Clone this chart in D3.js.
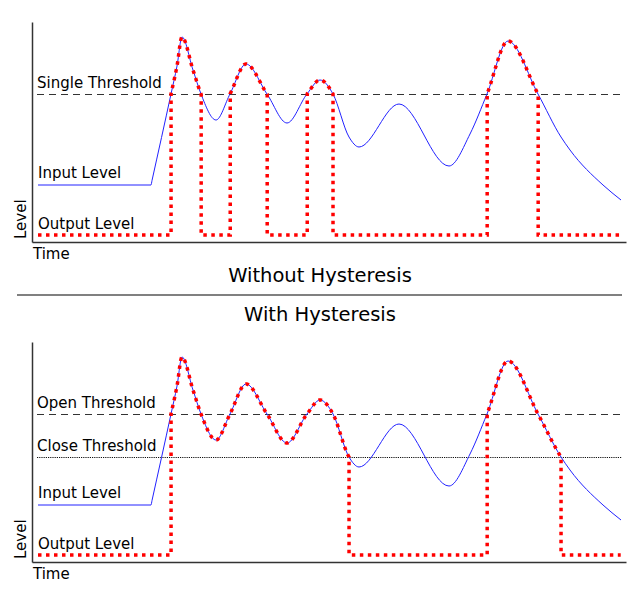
<!DOCTYPE html>
<html>
<head>
<meta charset="utf-8">
<script src="https://cdnjs.cloudflare.com/ajax/libs/d3/7.8.5/d3.min.js"></script>
<style>
body { margin: 0; background: #fff; }
text { font-family: "DejaVu Sans", sans-serif; fill: #000; }
</style>
</head>
<body>
<div id="chart"></div>
<script>
// input signal (time units, level units)
var timePoints  = [6, 119, 120, 139, 145, 150, 161, 169, 184, 198, 214, 235, 255, 275, 288, 301, 317, 327, 367, 417, 438, 455, 476, 506, 529, 538, 571, 589];
var inputLevels = [57, 57, 61.5, 148, 176, 205, 172, 148, 122, 148, 178, 148, 119, 148, 162, 148, 105, 95, 138, 76, 108, 148, 201, 148, 105, 92, 57, 42];

var outputLow = 7;

// per panel
var panelTitles = ["Without Hysteresis", "With Hysteresis"];
var openLevels  = [148, 148];
var closeLevels = [148, 105];
var thresholdLabels = [["Single Threshold"], ["Open Threshold", "Close Threshold"]];
var thresholdLevels = [[148], [148, 105]];

var width = 640, height = 600;

var svg = d3.select("#chart").append("svg")
	.attr("width", width)
	.attr("height", height);

var x = d3.scaleLinear().domain([0, 594]).range([32, 626]);
var y = d3.scaleLinear().domain([0, 220]).range([242, 22]);

var inputLine = d3.line()
	.x(function (d) { return x(d.t); })
	.y(function (d) { return y(d.v); })
	.curve(d3.curveMonotoneX);

var inputData = timePoints.map(function (t, i) { return {t: t, v: inputLevels[i]}; });

function drawPanel(idx, top) {
	var g = svg.append("g").attr("transform", "translate(0," + top + ")");

	// thresholds
	thresholdLevels[idx].forEach(function (lv, j) {
		var dotted = idx === 1 && j === 1;
		g.append("line")
			.attr("x1", 37).attr("x2", 622)
			.attr("y1", y(lv) + 0.5).attr("y2", y(lv) + 0.5)
			.attr("stroke", dotted ? "#111" : "#333")
			.attr("stroke-width", 1)
			.attr("stroke-dasharray", dotted ? "1.2,1" : "7,5");
		g.append("text")
			.attr("x", 37).attr("y", y(lv) - 6)
			.attr("font-size", 15)
			.text(thresholdLabels[idx][j]);
	});

	// input
	var path = g.append("path")
		.datum(inputData)
		.attr("d", inputLine)
		.attr("fill", "none")
		.attr("stroke", "#2222ff")
		.attr("stroke-width", 1);

	// output from the sampled input and the gate rule
	var node = path.node();
	var total = node.getTotalLength();
	var low = y(outputLow);
	var pts = [];
	var open = false;
	for (var l = 0; l <= total; l += 0.5) {
		var p = node.getPointAtLength(l);
		var lv = y.invert(p.y);
		var next = open ? lv >= closeLevels[idx] : lv > openLevels[idx];
		if (next !== open) {
			if (next) { pts.push([p.x, low], [p.x, p.y]); }
			else { pts.push([p.x, p.y], [p.x, low]); }
			open = next;
		} else {
			pts.push([p.x, open ? p.y : low]);
		}
	}
	g.append("path")
		.datum(pts)
		.attr("d", d3.line())
		.attr("fill", "none")
		.attr("stroke", "#ff0000")
		.attr("stroke-width", 3.5)
		.attr("stroke-dasharray", "3.5,4.5");

	// labels
	g.append("text").attr("x", 38).attr("y", 178).attr("font-size", 15).text("Input Level");
	g.append("text").attr("x", 38).attr("y", 229).attr("font-size", 15).text("Output Level");
	g.append("text").attr("x", 33).attr("y", 259).attr("font-size", 15).text("Time");
	g.append("text")
		.attr("transform", "translate(26,239) rotate(-90)")
		.attr("font-size", 15)
		.text("Level");

	// axes
	var xAxis = g.append("g").attr("transform", "translate(0," + 242 + ")")
		.call(d3.axisBottom(x).ticks(0).tickSizeOuter(0));
	var yAxis = g.append("g").attr("transform", "translate(" + 32 + ",0)")
		.call(d3.axisLeft(y).ticks(0).tickSizeOuter(0));
	[xAxis, yAxis].forEach(function (a) {
		a.select(".domain").attr("stroke", "#333").attr("stroke-width", 1.5);
	});
}

drawPanel(0, 0);
drawPanel(1, 320);

// titles and separator
svg.append("text").attr("x", 320).attr("y", 282).attr("text-anchor", "middle")
	.attr("font-size", 19.5).text(panelTitles[0]);
svg.append("line")
	.attr("x1", 17).attr("x2", 622).attr("y1", 295).attr("y2", 295)
	.attr("stroke", "#808080").attr("stroke-width", 2);
svg.append("text").attr("x", 320).attr("y", 321).attr("text-anchor", "middle")
	.attr("font-size", 19.5).text(panelTitles[1]);
</script>
</body>
</html>
